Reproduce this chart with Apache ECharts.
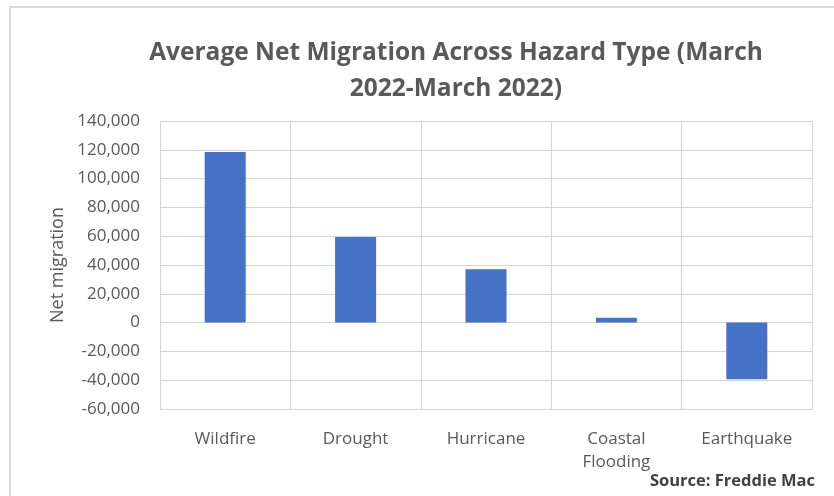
<!DOCTYPE html>
<html>
<head>
<meta charset="utf-8">
<script src="https://cdn.jsdelivr.net/npm/echarts@6/dist/echarts.min.js"></script>
<style>
  html, body { margin: 0; padding: 0; background: #fff; }
  #main { width: 834px; height: 496px; }
</style>
</head>
<body>
<div id="main"></div>
<script>
  // hazard types on the x axis
  const categories = ['Wildfire', 'Drought', 'Hurricane', 'Coastal\nFlooding', 'Earthquake']
  // average net migration per hazard type
  const netMigration = [118500, 59500, 37000, 3400, -39300]
  // y axis range
  const yMin = -60000
  const yMax = 140000
  const yStep = 20000

  const chart = echarts.init(document.getElementById('main'))
  const option = {
    backgroundColor: '#fff',
    animation: false,
    title: {
      text: 'Average Net Migration Across Hazard Type (March\n2022-March 2022)',
      left: 451,
      top: 30,
      textAlign: 'center',
      textStyle: {
        fontFamily: 'Open Sans',
        fontWeight: 'bold',
        fontSize: 24.5,
        lineHeight: 36,
        color: '#595959'
      }
    },
    graphic: [
      {
        type: 'rect',
        shape: { x: 10, y: 7, width: 840, height: 520 },
        style: { fill: 'none', stroke: '#d9d9d9', lineWidth: 2 },
        silent: true
      },
      {
        type: 'text',
        right: 19,
        top: 473,
        style: {
          text: 'Source: Freddie Mac',
          font: 'bold 16.5px "Open Sans"',
          fill: '#404040'
        }
      }
    ],
    grid: {
      left: 160,
      right: 22,
      top: 121,
      bottom: 87
    },
    xAxis: {
      type: 'category',
      data: categories,
      axisLine: { show: false, onZero: false },
      axisTick: { show: false },
      splitLine: { show: true, lineStyle: { color: '#d4d4d4', width: 1 } },
      axisLabel: {
        margin: 19,
        color: '#595959',
        fontFamily: 'Open Sans',
        fontSize: 17,
        lineHeight: 23
      }
    },
    yAxis: {
      type: 'value',
      min: yMin,
      max: yMax,
      interval: yStep,
      name: 'Net migration',
      nameLocation: 'middle',
      nameGap: 92,
      nameTextStyle: {
        color: '#595959',
        fontFamily: 'Open Sans',
        fontSize: 18
      },
      axisLine: { show: false },
      axisTick: { show: false },
      splitLine: { lineStyle: { color: '#d4d4d4', width: 1 } },
      axisLabel: {
        margin: 20,
        color: '#595959',
        fontFamily: 'Open Sans',
        fontSize: 17,
        formatter: v => v.toLocaleString('en-US')
      }
    },
    series: [
      {
        type: 'bar',
        data: netMigration,
        barWidth: 41,
        itemStyle: { color: '#4472C4' }
      }
    ]
  }
  chart.setOption(option)
</script>
</body>
</html>
